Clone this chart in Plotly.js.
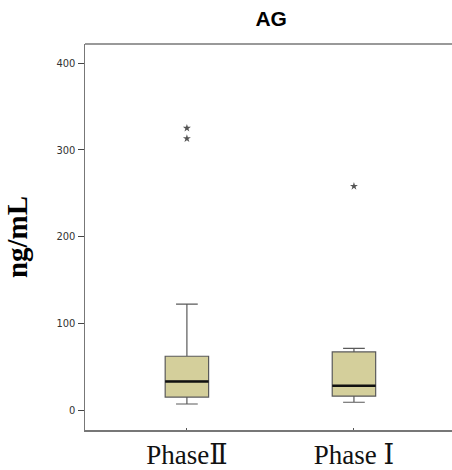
<!DOCTYPE html>
<html>
<head>
<meta charset="utf-8">
<script src="https://cdn.plot.ly/plotly-3.0.1.min.js"></script>
<style>html,body{margin:0;padding:0;background:#fff}#chart{width:452px;height:470px}</style>
</head>
<body>
<div id="chart"></div>
<script>
var categories = ["Phase\u2161", "Phase \u2160"];
var lowerFence = [7, 9];
var q1 = [15, 16];
var median = [33, 28];
var q3 = [62, 67];
var upperFence = [122, 71];
var outlierCat = [0, 0, 1];
var outlierVal = [325, 313, 258];
var yTicks = [0, 100, 200, 300, 400];

var boxWidth = 0.26;
var boxTrace = {
  type: 'box',
  x: categories,
  q1: q1, median: median, q3: q3,
  lowerfence: lowerFence, upperfence: upperFence,
  width: boxWidth,
  whiskerwidth: 0.5,
  fillcolor: '#d4cf9b',
  line: {color: '#5a5a5a', width: 1.2},
  boxpoints: false,
  hoverinfo: 'skip',
  showlegend: false
};
var outTrace = {
  type: 'scatter', mode: 'markers',
  x: outlierCat.map(function(i){return categories[i];}),
  y: outlierVal,
  marker: {symbol: 'star', size: 6, color: '#555555'},
  showlegend: false, hoverinfo: 'skip'
};
var shapes = median.map(function(m, i){
  return {type: 'line', xref: 'x', yref: 'y', x0: i - boxWidth/2, x1: i + boxWidth/2, y0: m, y1: m,
          line: {color: '#111111', width: 2.5}};
});
shapes.push({type: 'line', xref: 'paper', yref: 'paper', x0: 0, x1: 1, y0: 1, y1: 1,
             line: {color: '#777777', width: 1.5}});

var layout = {
  width: 452, height: 470,
  margin: {l: 85, r: 0, t: 44, b: 40},
  paper_bgcolor: '#ffffff', plot_bgcolor: '#ffffff',
  title: {text: '<b>AG</b>', x: 0.6, xanchor: 'center', y: 0.96, yanchor: 'middle',
          font: {family: 'Liberation Sans, Arial, sans-serif', size: 21, color: '#000'}},
  xaxis: {
    type: 'category', range: [-0.61, 1.587],
    showline: true, linecolor: '#777777', linewidth: 1.5,
    ticks: 'inside', ticklen: 2, tickcolor: '#555',
    showgrid: false, zeroline: false,
    tickfont: {family: 'Liberation Serif, DejaVu Serif, Times New Roman, serif', size: 27, color: '#111'}
  },
  yaxis: {
    range: [-23, 422],
    tickvals: yTicks, ticktext: yTicks.map(String),
    showline: true, linecolor: '#777777', linewidth: 1.5,
    ticks: 'outside', ticklen: 6, tickcolor: '#444',
    showgrid: false, zeroline: false,
    tickfont: {family: 'Liberation Sans Narrow, DejaVu Sans Condensed, Arial, sans-serif', size: 11, color: '#333'},
    title: {text: '<b>ng/mL</b>', standoff: 20,
            font: {family: 'Liberation Serif, Times New Roman, serif', size: 29, color: '#000'}}
  },
  shapes: shapes
};
Plotly.newPlot('chart', [boxTrace, outTrace], layout, {displayModeBar: false, staticPlot: true});
</script>
</body>
</html>
